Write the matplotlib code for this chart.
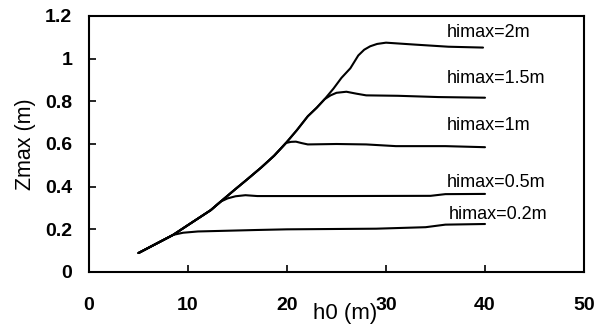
import matplotlib
matplotlib.use("Agg")
import matplotlib.pyplot as plt

# Shared rising envelope (h0, Zmax)
env_h0 = [5, 8.5, 10, 12.3, 13.3, 14.7, 16, 17.4, 18.7, 19.9, 21, 22.1, 23, 23.8, 24.7, 25.5, 26.4, 27.2]
env_z = [0.089, 0.174, 0.22, 0.29, 0.33, 0.385, 0.435, 0.49, 0.545, 0.605, 0.665, 0.73, 0.77, 0.81, 0.86, 0.91, 0.955, 1.015]

# Individual branches after leaving the envelope
h0_02 = [5, 8.5, 9.5, 11, 17, 20, 29, 34, 36, 40]
z_02 = [0.089, 0.174, 0.184, 0.19, 0.197, 0.2, 0.203, 0.21, 0.222, 0.225]

h0_05 = [5, 8.5, 10, 12.3, 13.3, 14, 14.8, 15.8, 17, 25, 34.5, 36, 40]
z_05 = [0.089, 0.174, 0.22, 0.29, 0.33, 0.345, 0.355, 0.36, 0.356, 0.356, 0.357, 0.365, 0.366]

h0_1 = [5, 8.5, 10, 12.3, 13.3, 14.7, 16, 17.4, 18.7, 19.9, 20.4, 20.9, 21.5, 22.1, 25, 28, 31, 36, 40]
z_1 = [0.089, 0.174, 0.22, 0.29, 0.33, 0.385, 0.435, 0.49, 0.545, 0.605, 0.61, 0.611, 0.604, 0.598, 0.6, 0.598, 0.59, 0.59, 0.585]

h0_15 = [5, 8.5, 10, 12.3, 13.3, 14.7, 16, 17.4, 18.7, 19.9, 21, 22.1, 23, 23.8, 24.4, 25, 26, 27, 28, 31.2, 35.3, 40]
z_15 = [0.089, 0.174, 0.22, 0.29, 0.33, 0.385, 0.435, 0.49, 0.545, 0.605, 0.665, 0.73, 0.77, 0.81, 0.828, 0.84, 0.845, 0.836, 0.828, 0.826, 0.82, 0.817]

h0_2 = env_h0 + [27.8, 28.4, 29.1, 30, 32.9, 36.3, 39.8]
z_2 = env_z + [1.042, 1.058, 1.069, 1.075, 1.066, 1.056, 1.052]

labels = ["himax=0.2m", "himax=0.5m", "himax=1m", "himax=1.5m", "himax=2m"]
label_h0 = [36.3, 36.1, 36.1, 36.1, 36.1]
label_z = [0.268, 0.418, 0.685, 0.906, 1.122]

xticks = [0, 10, 20, 30, 40, 50]
yticks = [0, 0.2, 0.4, 0.6, 0.8, 1.0, 1.2]
yticklabels = ["0", "0.2", "0.4", "0.6", "0.8", "1", "1.2"]

plt.rcParams['font.family'] = ['Liberation Sans', 'DejaVu Sans']

fig = plt.figure(figsize=(6.08, 3.26), dpi=100)
ax = fig.add_axes([89/608, 1-272/326, (584-89)/608, (272-16)/326])

for hx, zy in [(h0_02, z_02), (h0_05, z_05), (h0_1, z_1), (h0_15, z_15), (h0_2, z_2)]:
    ax.plot(hx, zy, color='black', lw=1.5, solid_joinstyle='round', solid_capstyle='round')

for t, hx, zy in zip(labels, label_h0, label_z):
    ax.text(hx, zy, t, fontsize=13, va='center', ha='left', color='black')

ax.set_xlim(0, 50)
ax.set_ylim(0, 1.2)
ax.set_xticks(xticks)
ax.set_xticklabels([str(v) for v in xticks], fontsize=14, fontweight='bold')
ax.set_yticks(yticks)
ax.set_yticklabels(yticklabels, fontsize=14, fontweight='bold')
ax.tick_params(axis='x', direction='in', length=5, width=1.2, pad=18)
ax.tick_params(axis='y', direction='in', length=5, width=1.2, pad=12)
for s in ax.spines.values():
    s.set_linewidth(1.5)

fig.text(25/608, 1-144/326, "Zmax (m)", rotation=90, fontsize=15.5, ha='center', va='center')
fig.text(345/608, 1-324/326, "h0 (m)", fontsize=16, ha='center', va='bottom')

fig.savefig("out.png", dpi=100)
